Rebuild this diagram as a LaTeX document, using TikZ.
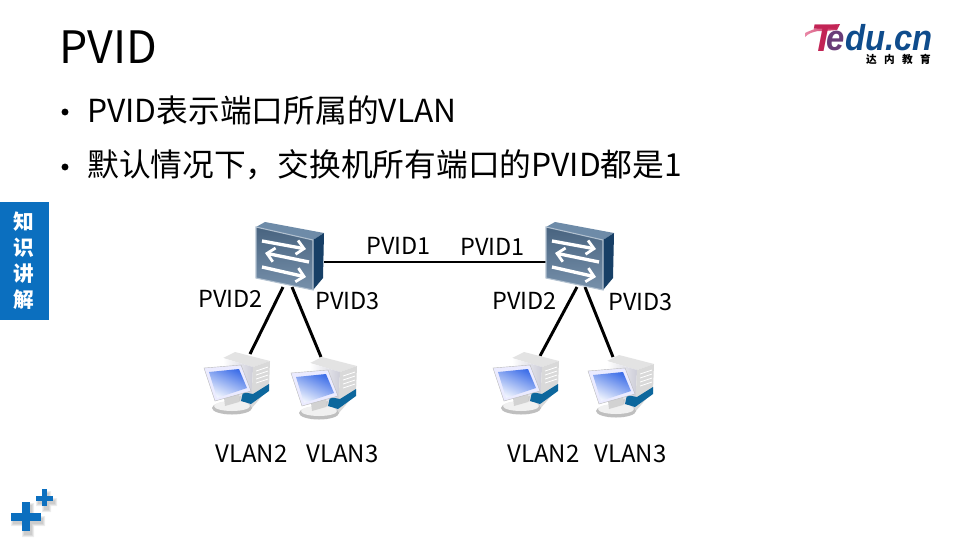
\documentclass[tikz,border=0pt]{standalone}
\usepackage{fontspec}
\setmainfont{Noto Sans CJK SC}
\newfontfamily\logofont{Liberation Sans}
\usetikzlibrary{arrows.meta}
\definecolor{bluebar}{HTML}{0B6FBF}
\definecolor{swfront}{HTML}{557596}
\definecolor{swtop}{HTML}{6E8BA8}
\definecolor{swside}{HTML}{173F66}
\definecolor{logoblue}{HTML}{0F4C8C}
\definecolor{logopink}{HTML}{D8285F}
\definecolor{screenblue}{HTML}{3F6FE8}
\tikzset{
  x=0.75pt,y=-0.75pt,
  titletext/.style={anchor=base west,inner sep=0,font=\fontsize{33.5}{40}\selectfont},
  bullettext/.style={anchor=base west,inner sep=0,font=\fontsize{23.8}{29}\selectfont},
  bulletdot/.style={circle,fill=black,inner sep=0,minimum size=5.2pt},
  lbl/.style={anchor=base west,inner sep=0,font=\fontsize{17.6}{22}\selectfont},
  vlbl/.style={anchor=base west,inner sep=0,font=\fontsize{18}{22}\selectfont},
  wire/.style={draw=black,line width=2.2pt},
  swarrow/.style={draw=white,line width=2.5pt,-{Straight Barb[length=5.5pt,width=10.5pt,line width=2.1pt]}},
  sidetext/.style={text=white,inner sep=0,font=\fontsize{15.5}{18}\selectfont\bfseries},
  plusmark/.style={fill=bluebar},
  plusshadow/.style={fill=black,opacity=.07},
}
\newcommand{\swicon}[2]{%
\begin{scope}[shift={(#1,#2)}]
  \fill[swtop] (0,0) -- (9,-5) -- (68,6) -- (57,13) -- cycle;
  \fill[swside] (57,13) -- (68,6) -- (67,51) -- (57,63) -- cycle;
  \shade[top color=swfront!85!black,bottom color=swfront!80!white] (0,0) -- (57,13) -- (57,63) -- (0,51) -- cycle;
  \draw[white!55!swfront,line width=.8pt] (0,0) -- (57,13) -- (57,63) -- (0,51) -- cycle;
  \draw[swarrow] (6,14) -- (50,22);
  \draw[swarrow] (53,35) -- (9,26);
  \draw[swarrow] (6,40) -- (50,50);
\end{scope}}
\newcommand{\pcicon}[2]{%
\begin{scope}[shift={(#1,#2)}]
  \fill[gray!22] (20,6) -- (32,0) -- (67,9) -- (50,15) -- cycle;
  \shade[left color=white,right color=blue!12!gray!35] (20,6) -- (50,15) -- (48,57) -- (20,44) -- cycle;
  \fill[gray!30] (50,15) -- (67,9) -- (66,36) -- (48,57) -- cycle;
  \fill[logoblue!85!cyan] (40,40) -- (50,42) -- (66,32) -- (66,39) -- (48,52) -- (38,49) -- cycle;
  \foreach \d in {0,4,8,12}{\draw[white,line width=.6pt] (53,19+\d) -- (65,15+\d);}
  \fill[gray!40] (29,46) -- (38,44) -- (37,50) -- (30,53) -- cycle;
  \fill[gray!50] (29,56) ellipse (20 and 6.5);
  \fill[gray!12] (29,54) ellipse (18 and 5);
  \fill[gray!35] (21,46) -- (36,42) -- (36,50) -- (22,54) -- cycle;
  \fill[white!92!blue,draw=gray!55,line width=.3pt] (1,16) -- (38,13) -- (48,39) -- (12,49) -- cycle;
  \shade[top color=screenblue,bottom color=screenblue!8!white,shading angle=-25] (6,20) -- (36,17) -- (44,36) -- (14,46) -- cycle;
\end{scope}}
\begin{document}
\begin{tikzpicture}
\useasboundingbox (0,0) rectangle (960,540);
\fill[white] (0,0) rectangle (960,540);

% title and bullets
\node[titletext] (title) at (59,63) {PVID};
\node[bulletdot] (b1) at (65,112) {};
\node[bullettext] (t1) at (87,122) {PVID表示端口所属的VLAN};
\node[bulletdot] (b2) at (65,167) {};
\node[bullettext] (t2) at (87,176) {默认情况下，交换机所有端口的PVID都是1};

% logo
\shade[left color=logopink!55!white,right color=logopink!90!black] (805,33) .. controls (815,28) and (828,25) .. (840,24) -- (837,30) -- (824,31) -- (818,31) .. controls (813,32) and (809,33) .. (805,37) -- cycle;
\node[anchor=base west,inner sep=0,text=logopink!90!black] (logot) at (811,51) {\logofont\fontsize{29}{30}\selectfont\bfseries\itshape T};
\node[anchor=base west,inner sep=0,text=logopink!45!logoblue] (logoe) at (826,50) {\logofont\fontsize{27}{30}\selectfont\bfseries\itshape\scalebox{.91}[1]{e}};
\node[anchor=base west,inner sep=0,text=logoblue] (logod) at (logoe.base east) {\logofont\fontsize{27}{30}\selectfont\bfseries\itshape\scalebox{.91}[1]{du.cn}};
\node[anchor=base east,inner sep=0] (logoz) at (931,63) {\fontsize{8}{10}\selectfont\bfseries 达\hspace{5.5pt}内\hspace{5.5pt}教\hspace{5.5pt}育};

% side tab
\fill[bluebar] (0,202) rectangle (49,320);
\node[sidetext] (s1) at (24,222) {知};
\node[sidetext] (s2) at (24,248) {识};
\node[sidetext] (s3) at (24,274) {讲};
\node[sidetext] (s4) at (24,300) {解};

% plus marks
\foreach \e in {0,1,2}{
  \fill[plusshadow] (13-\e,518-\e) rectangle (43+\e,524+\e) (24-\e,505-\e) rectangle (32+\e,535+\e);
  \fill[plusshadow] (38-\e,500-\e) rectangle (55+\e,504+\e) (44-\e,493-\e) rectangle (49+\e,510+\e);
}
\fill[plusmark] (11,513) rectangle (41,521);
\fill[plusmark] (22,502) rectangle (30,531);
\fill[plusmark] (36,496) rectangle (53,501);
\fill[plusmark] (42,489) rectangle (47,506);

% named connector ends
\coordinate (sw1e) at (324,262);
\coordinate (sw2w) at (546,262);
\coordinate (sw1a) at (283,287);
\coordinate (sw1b) at (292,287);
\coordinate (sw2a) at (577,287);
\coordinate (sw2b) at (585,287);
\coordinate (pc1t) at (250,354);
\coordinate (pc2t) at (321,357);
\coordinate (pc3t) at (540,356);
\coordinate (pc4t) at (613,357);

\draw[wire] (sw1e) -- (sw2w);
\draw[wire] (sw1a) -- (pc1t);
\draw[wire] (sw1b) -- (pc2t);
\draw[wire] (sw2a) -- (pc3t);
\draw[wire] (sw2b) -- (pc4t);

\swicon{256}{227}
\swicon{546}{227}
\pcicon{203}{352}
\pcicon{290}{357}
\pcicon{492}{352}
\pcicon{587}{355}

% labels
\node[lbl] (l1) at (366,254) {PVID1};
\node[lbl] (l2) at (460,255) {PVID1};
\node[lbl] (l3) at (198,307) {PVID2};
\node[lbl] (l4) at (315,309) {PVID3};
\node[lbl] (l5) at (492,309) {PVID2};
\node[lbl] (l6) at (608,310) {PVID3};
\node[vlbl] (v1) at (215,462) {VLAN2};
\node[vlbl] (v2) at (306,462) {VLAN3};
\node[vlbl] (v3) at (507,462) {VLAN2};
\node[vlbl] (v4) at (594,462) {VLAN3};
\end{tikzpicture}
\end{document}
